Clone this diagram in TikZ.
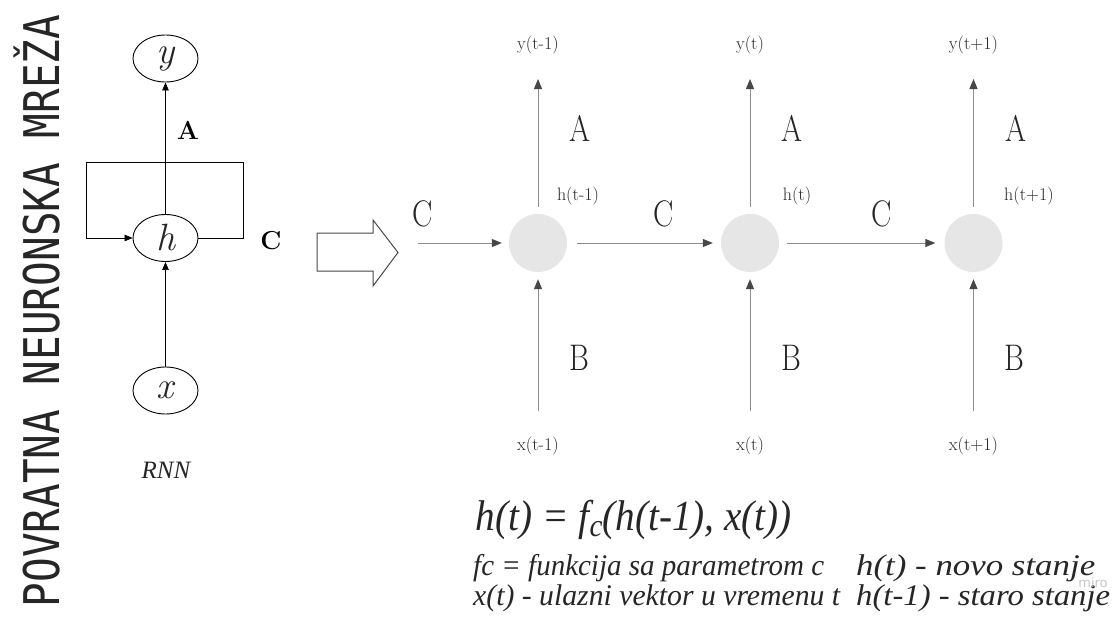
\documentclass[tikz,border=0pt]{standalone}
\usepackage{fontspec}
\usepackage{graphicx}
\newfontfamily\monofam{DejaVu Sans Mono}
\newfontfamily\itfam{Liberation Serif}
\newfontfamily\wmfam{DejaVu Sans}
\usetikzlibrary{arrows.meta,shapes.geometric}
\definecolor{cellgray}{HTML}{E6E6E6}
\definecolor{linegray}{HTML}{8C8C8C}
\definecolor{tipgray}{HTML}{474747}
\definecolor{txtgray}{HTML}{262626}
\begin{document}
\begin{tikzpicture}[x=1pt,y=-1pt,
  ell/.style={ellipse, draw=black, line width=0.9pt, minimum width=65pt, minimum height=47pt, inner sep=0pt,
    font=\fontsize{38}{38}\selectfont\itshape, text=txtgray},
  larr/.style={draw=black, line width=0.7pt, -{Triangle[length=8pt,width=6.5pt]}},
  boldlbl/.style={font=\fontsize{26}{26}\selectfont\bfseries, text=black},
  cell/.style={circle, fill=cellgray, minimum size=58pt, inner sep=0pt},
  flow/.style={draw=linegray, line width=1pt, -{Triangle[length=10pt,width=8pt,color=tipgray]}},
  small/.style={font=\fontsize{18}{18}\selectfont, text=txtgray, inner sep=0pt},
  big/.style={font=\fontsize{37}{37}\selectfont, text=txtgray, inner sep=0pt},
  note/.style={anchor=west, inner sep=0pt, text=txtgray}
]
\useasboundingbox (0,0) rectangle (1116,626);
\fill[white] (0,0) rectangle (1116,626);

% title
\node[rotate=90, inner sep=0pt, text=txtgray] (title) at (37,311)
  {\scalebox{1}[1.2]{\monofam\fontsize{41}{41}\selectfont POVRATNA NEURONSKA MREŽA}};

% left RNN
\node[ell] (Y) at (165.5,58.5) {y};
\node[ell] (H) at (165.5,238) {h};
\node[ell] (X) at (165.5,390.5) {x};
\coordinate (c1) at (243,162);
\coordinate (c2) at (86,162);
\draw[larr] (H) -- (Y);
\draw[larr] (X) -- (H);
\draw[larr] (H.east) -| (c1) -- (c2) |- (H.west);
\node[boldlbl] (lA) at (188,130) {A};
\node[boldlbl] (lC) at (271,241) {C};
\node[font=\itfam\fontsize{25}{25}\selectfont\itshape, text=txtgray] (rnn) at (166,470) {RNN};

% hollow arrow
\draw[draw=tipgray, line width=1pt, line join=miter]
  (317,233) -- (373,233) -- (373,220) -- (398,252.5) -- (373,286) -- (373,271) -- (317,271) -- cycle;

% unrolled cells
\node[cell] (h1) at (538,243) {};
\node[cell] (h2) at (750,243) {};
\node[cell] (h3) at (973.5,243) {};
\coordinate (in0) at (418,243);
\draw[flow, shorten >=7pt] (in0) -- (h1);
\draw[flow, shorten <=10pt, shorten >=8pt] (h1) -- (h2);
\draw[flow, shorten <=8pt, shorten >=9pt] (h2) -- (h3);

\foreach \n/\xx/\tt/\xl in {1/538/y(t-1)/x(t-1), 2/750/y(t)/x(t), 3/973.5/y(t+1)/x(t+1)}{
  \coordinate (ya\n) at (\xx,79);
  \coordinate (xa\n) at (\xx,411);
  \draw[flow, shorten <=7pt] (h\n) -- (ya\n);
  \draw[flow, shorten >=7pt] (xa\n) -- (h\n);
  \node[small] (yl\n) at (\xx,45) {\tt};
  \node[small] (xl\n) at (\xx,446) {\xl};
  \node[big] (A\n) at (\xx+42,128) {\scalebox{0.82}[1]{A}};
  \node[big] (B\n) at (\xx+41,358) {\scalebox{0.82}[1]{B}};
}
\node[small] (hl1) at (578,196) {h(t-1)};
\node[small] (hl2) at (797,196) {h(t)};
\node[small] (hl3) at (1029,196) {h(t+1)};
\node[big] (C1) at (423,214) {\scalebox{0.82}[1]{C}};
\node[big] (C2) at (664,214) {\scalebox{0.82}[1]{C}};
\node[big] (C3) at (882,214) {\scalebox{0.82}[1]{C}};

% formulas
\node[inner sep=0pt, text=txtgray] (f) at (634,520)
  {\resizebox{316pt}{\height}{\itfam\itshape\fontsize{43}{43}\selectfont h(t) = f\raisebox{-0.3ex}{\fontsize{32}{32}\selectfont c}(h(t-1), x(t))}};
\node[note] (n1) at (473,568) {\resizebox{351pt}{\height}{\itfam\itshape\fontsize{30}{30}\selectfont fc = funkcija sa parametrom c}};
\node[note] (n2) at (473,598) {\resizebox{367pt}{\height}{\itfam\itshape\fontsize{30}{30}\selectfont x(t) - ulazni vektor u vremenu t}};
\node[note] (n3) at (856,568) {\resizebox{239pt}{\height}{\itfam\itshape\fontsize{30}{30}\selectfont h(t) - novo stanje}};
\node[note] (n4) at (856,598) {\resizebox{254pt}{\height}{\itfam\itshape\fontsize{30}{30}\selectfont h(t-1) - staro stanje}};
\node[text=black!22, font=\wmfam\fontsize{13}{13}\selectfont, inner sep=0pt] (wm) at (1093,583) {miro};
\end{tikzpicture}
\end{document}
